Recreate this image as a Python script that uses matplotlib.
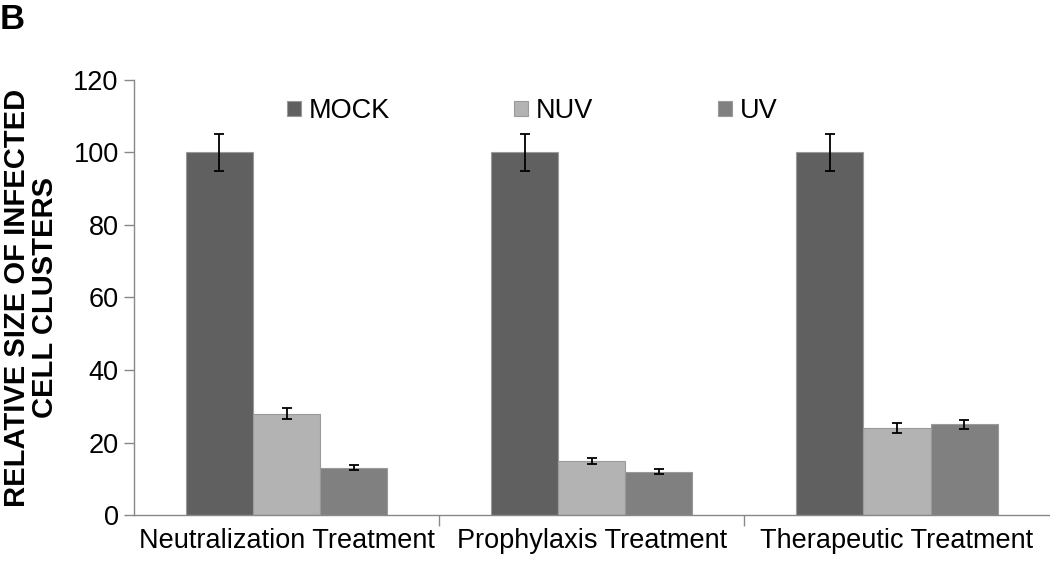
import numpy as np
from matplotlib import pyplot as plt

plt.rcParams['font.family'] = ['Liberation Sans', 'DejaVu Sans']

categories = ['Neutralization Treatment', 'Prophylaxis Treatment', 'Therapeutic Treatment']
series = ['MOCK', 'NUV', 'UV']
mock = [100, 100, 100]
mock_err = [5, 5, 5]
nuv = [28, 15, 24]
nuv_err = [1.5, 0.8, 1.3]
uv = [13, 12, 25]
uv_err = [0.7, 0.6, 1.3]

colors = ['#606060', '#b3b3b3', '#808080']
values = [mock, nuv, uv]
errors = [mock_err, nuv_err, uv_err]

fig = plt.figure(figsize=(10.5, 5.62), dpi=100)
ax = fig.add_axes([0.1276, 0.0836, 0.872, 0.7741])

x = np.arange(len(categories))
w = 0.22
for i, (name, vals, errs, c) in enumerate(zip(series, values, errors, colors)):
    ax.bar(x + (i - 1) * w, vals, w, color=c, edgecolor='#9a9a9a', linewidth=0.8,
           label=name, zorder=2)
    ax.errorbar(x + (i - 1) * w, vals, yerr=errs, fmt='none', ecolor='black',
                elinewidth=1.3, capsize=3.6, capthick=1.3, zorder=3)

ax.set_xlim(-0.5, 2.5)
ax.set_ylim(0, 120)
ax.set_yticks(range(0, 121, 20))
ax.set_xticks(x)
ax.set_xticklabels(categories)
ax.set_xticks([0.5, 1.5], minor=True)
ax.tick_params(axis='x', which='major', length=0, labelsize=19.5, pad=9)
ax.tick_params(axis='x', which='minor', length=8, color='#888888', width=1)
ax.tick_params(axis='y', length=7, color='#888888', width=1, labelsize=19.5, pad=4)

for s in ['top', 'right']:
    ax.spines[s].set_visible(False)
for s in ['left', 'bottom']:
    ax.spines[s].set_color('#888888')
    ax.spines[s].set_linewidth(1)

ax.set_ylabel('RELATIVE SIZE OF INFECTED\nCELL CLUSTERS', fontsize=21,
              fontweight='bold', labelpad=10, linespacing=1.0)

ax.legend(loc='center', bbox_to_anchor=(0.435, 0.928), ncol=3, frameon=False,
          fontsize=19.5, handlelength=0.5, handleheight=0.5, handletextpad=0.3,
          columnspacing=4.6, borderpad=0)

fig.text(0.0, 0.995, 'B', fontsize=25, fontweight='bold', va='top', ha='left')

plt.savefig('out.png', dpi=100)
